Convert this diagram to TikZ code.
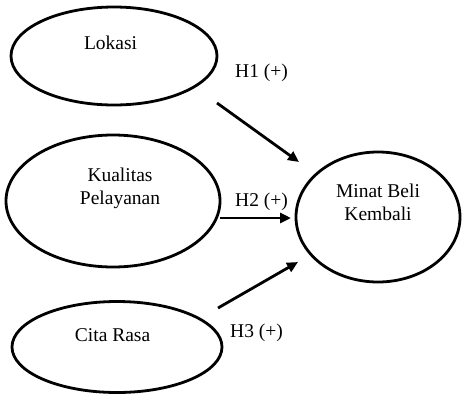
\documentclass[tikz,border=0pt]{standalone}
\usepackage{fontspec}
\setmainfont{Liberation Serif}
\usetikzlibrary{shapes.geometric,arrows.meta}

\tikzset{
    oval/.style={ellipse, draw, line width=2.8pt, inner sep=0pt},
    txt/.style={font=\fontsize{19.5}{23}\selectfont, align=center, inner sep=0pt},
    arr/.style={line width=2.8pt, -{Triangle[length=11pt,width=10pt]}}
}

\begin{document}
\begin{tikzpicture}[x=1pt,y=-1pt]
        \useasboundingbox (0,0) rectangle (462,394);

        \node[oval, minimum width=206pt, minimum height=98pt] (lokasi) at (114, 56) {};
        \node[oval, minimum width=214pt, minimum height=132pt] (kualitas) at (113, 201) {};
        \node[oval, minimum width=210pt, minimum height=91pt] (citarasa) at (117, 347) {};
        \node[oval, minimum width=164pt, minimum height=130pt] (minat) at (378, 217) {};

        \node[txt] (tlokasi) at (113, 43) { Lokasi };
        \node[txt] (tkualitas) at (120, 188) { Kualitas\\Pelayanan };
        \node[txt] (tcitarasa) at (115, 335) { Cita Rasa };
        \node[txt] (tminat) at (378, 202) { Minat Beli\\Kembali };

        \coordinate (h1a) at (217, 103);
        \coordinate (h1b) at (299, 162);
        \coordinate (h2a) at (220, 218);
        \coordinate (h2b) at (291, 218);
        \coordinate (h3a) at (218, 308);
        \coordinate (h3b) at (298, 262);

        \draw[arr] (h1a) -- (h1b);
        \draw[arr] (h2a) -- (h2b);
        \draw[arr] (h3a) -- (h3b);

        \node[txt] (lh1) at (264, 73) { H1 (+) };
        \node[txt] (lh2) at (264, 202) { H2 (+) };
        \node[txt] (lh3) at (259, 333) { H3 (+) };

    \end{tikzpicture}
\end{document}
